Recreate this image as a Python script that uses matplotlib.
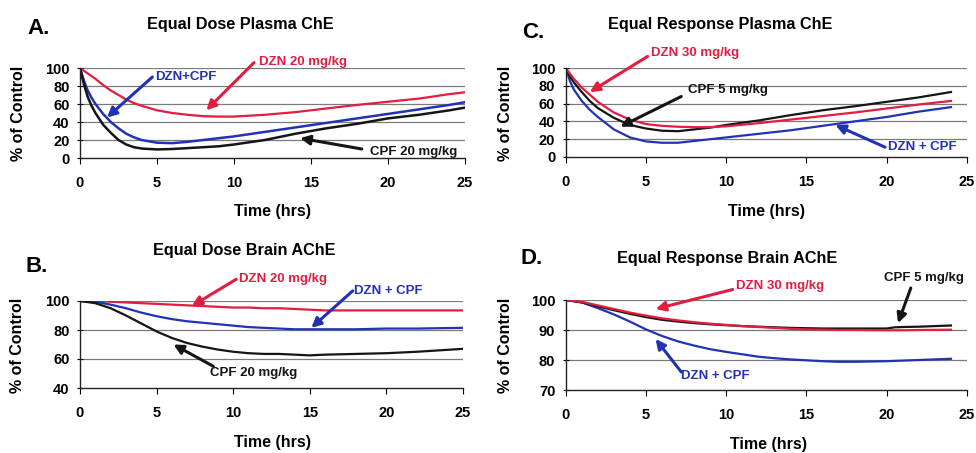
import matplotlib.pyplot as plt

plt.rcParams['font.family'] = ['Liberation Sans', 'DejaVu Sans']
plt.rcParams['font.weight'] = 'bold'

RED = '#e21d3f'
BLUE = '#2232b4'
BLACK = '#151515'

# Panel A - Equal Dose Plasma ChE
t_a = [0, 0.25, 0.5, 0.75, 1, 1.5, 2, 2.5, 3, 3.5, 4, 5, 6, 7, 8, 9, 10, 12, 14, 16, 18, 20, 22, 24, 25]
dzn_a = [100, 97, 94, 91, 88, 81, 75, 70, 65, 61, 58, 53, 50, 48, 46.5, 46, 46, 48, 51, 55, 59, 62.5, 66, 71, 73]
mix_a = [100, 86, 75, 67, 60, 49, 40, 33, 27, 23, 20, 17, 16.5, 18, 20, 22, 24, 29, 34, 39, 44, 49, 54, 59, 62]
cpf_a = [100, 82, 68, 58, 50, 37, 28, 20, 15, 12, 10.5, 9.5, 10, 11, 12, 13, 15, 20, 27, 33, 38, 44, 48, 53, 56]

# Panel C - Equal Response Plasma ChE
t_c = [0, 0.25, 0.5, 1, 1.5, 2, 3, 4, 5, 6, 7, 8, 9, 10, 12, 14, 16, 18, 20, 22, 24]
dzn_c = [100, 94, 88, 78, 70, 62, 50, 42, 37, 35, 34, 33.5, 33.5, 34.5, 38, 42, 46, 50, 54.5, 59, 63]
cpf_c = [100, 91, 84, 73, 63, 55, 44, 36, 32, 29.5, 29, 31, 33, 36, 41, 47, 52.5, 57, 62, 67, 73]
mix_c = [100, 86, 76, 63, 53, 45, 31, 22, 17.5, 16, 16, 18, 20, 22, 26, 30, 35, 40, 45, 51, 56]

# Panel B - Equal Dose Brain AChE
t_b = [0, 1, 2, 3, 4, 5, 6, 7, 8, 9, 10, 11, 12, 13, 14, 15, 16, 18, 20, 22, 25]
dzn_b = [100, 100, 99.5, 99, 98.5, 98, 97.5, 97, 96.5, 96, 95.5, 95.5, 95, 95, 94.5, 94, 93.5, 93.5, 93.5, 93.5, 93.5]
mix_b = [100, 99.5, 97.5, 95, 92, 89.5, 87.5, 86, 85, 84, 83, 82, 81.5, 81, 80.5, 80.5, 80.5, 80.5, 81, 81, 81.5]
cpf_b = [100, 98.5, 95, 90, 84.5, 79, 74.5, 71, 68.5, 66.5, 65, 64, 63.5, 63.5, 63, 62.5, 63, 63.5, 64, 65, 67]

# Panel D - Equal Response Brain AChE
t_d = [0, 1, 2, 3, 4, 5, 6, 7, 8, 9, 10, 11, 12, 13, 14, 15, 16, 17, 18, 20, 20.5, 21, 22, 24]
dzn_d = [100, 99.4, 98.2, 97, 95.8, 94.8, 93.9, 93.2, 92.6, 92.1, 91.7, 91.3, 91, 90.7, 90.4, 90.2, 90.1, 90, 90, 89.9, 89.9, 89.9, 90, 90.1]
cpf_d = [100, 99.2, 97.9, 96.6, 95.4, 94.3, 93.4, 92.8, 92.3, 91.9, 91.6, 91.3, 91.1, 90.9, 90.7, 90.6, 90.5, 90.5, 90.5, 90.5, 90.9, 91, 91.1, 91.5]
mix_d = [100, 99.2, 97.3, 95.2, 92.8, 90.2, 88, 86.2, 84.8, 83.6, 82.7, 81.9, 81.1, 80.6, 80.2, 79.9, 79.6, 79.4, 79.4, 79.6, 79.7, 79.8, 80, 80.4]

W, H = 976, 453
fig = plt.figure(figsize=(W / 100, H / 100), dpi=100)


def px_axes(left, top, right, bottom):
    # axes box from pixel edges
    return fig.add_axes([left / W, 1 - bottom / H, (right - left) / W, (bottom - top) / H])


def setup(ax, ylim, yticks):
    ax.set_xlim(0, 25)
    ax.set_ylim(*ylim)
    ax.set_xticks([0, 5, 10, 15, 20, 25])
    ax.set_yticks(yticks)
    for y in yticks[1:]:
        ax.axhline(y, color='#7a7a7a', lw=0.9, zorder=0)
    for s in ['top', 'right']:
        ax.spines[s].set_visible(False)
    for s in ['left', 'bottom']:
        ax.spines[s].set_color('#222222')
        ax.spines[s].set_linewidth(1.0)
    ax.tick_params(axis='x', direction='out', length=4, pad=9, labelsize=10.5)
    ax.tick_params(axis='y', direction='inout', length=5, pad=5, labelsize=10.5)
    for lab in ax.get_xticklabels() + ax.get_yticklabels():
        lab.set_fontweight('bold')


def arrow(ax, text, color, txt, tail, head):
    ax.text(txt[0], txt[1], text, color=color, fontsize=9.5, fontweight='bold',
            ha='left', va='center', clip_on=False)
    ax.annotate('', xy=head, xytext=tail, annotation_clip=False,
                arrowprops=dict(arrowstyle='-|>', color=color, lw=2.2,
                                mutation_scale=14, shrinkA=0, shrinkB=0))


def labels(letter, lx, ly, title, tx, ty, xlx, xly, ylx, yly):
    fig.text(lx / W, 1 - ly / H, letter, fontsize=16, fontweight='bold', ha='center', va='center')
    fig.text(tx / W, 1 - ty / H, title, fontsize=11.7, fontweight='bold', ha='center', va='center')
    fig.text(xlx / W, 1 - xly / H, 'Time (hrs)', fontsize=11.5, fontweight='bold', ha='center', va='center')
    fig.text(ylx / W, 1 - yly / H, '% of Control', fontsize=11.5, fontweight='bold',
             ha='center', va='center', rotation=90)


# A
ax = px_axes(80, 68, 465, 158)
setup(ax, (0, 100), [0, 20, 40, 60, 80, 100])
ax.plot(t_a, dzn_a, color=RED, lw=1.6)
ax.plot(t_a, mix_a, color=BLUE, lw=1.8)
ax.plot(t_a, cpf_a, color=BLACK, lw=1.8)
arrow(ax, 'DZN+CPF', BLUE, (4.9, 90), (4.7, 90), (1.75, 45))
arrow(ax, 'DZN 20 mg/kg', RED, (11.6, 106.7), (11.3, 106), (8.2, 53))
arrow(ax, 'CPF 20 mg/kg', BLACK, (18.8, 6.7), (18.3, 10), (14.3, 22))
labels('A.', 39, 29, 'Equal Dose Plasma ChE', 240, 25, 272, 212, 19, 113)

# C
ax = px_axes(565.7, 68, 967, 157)
setup(ax, (0, 100), [0, 20, 40, 60, 80, 100])
ax.plot(t_c, mix_c, color=BLUE, lw=1.6)
ax.plot(t_c, cpf_c, color=BLACK, lw=1.6)
ax.plot(t_c, dzn_c, color=RED, lw=1.6)
arrow(ax, 'DZN 30 mg/kg', RED, (5.3, 117), (5.1, 113), (1.5, 73))
arrow(ax, 'CPF 5 mg/kg', BLACK, (7.6, 75.3), (7.2, 68), (3.4, 34))
arrow(ax, 'DZN + CPF', BLUE, (20.1, 11.2), (19.9, 11), (16.8, 36))
labels('C.', 533, 33, 'Equal Response Plasma ChE', 720, 25, 766, 212, 505, 113)

# B
ax = px_axes(80, 301, 463, 388)
setup(ax, (40, 100), [40, 60, 80, 100])
ax.plot(t_b, dzn_b, color=RED, lw=1.6)
ax.plot(t_b, mix_b, color=BLUE, lw=1.6)
ax.plot(t_b, cpf_b, color=BLACK, lw=1.6)
arrow(ax, 'DZN 20 mg/kg', RED, (10.4, 115.2), (10.2, 115), (7.3, 96.5))
arrow(ax, 'DZN + CPF', BLUE, (17.9, 106.9), (17.8, 107), (15.1, 81.5))
arrow(ax, 'CPF 20 mg/kg', BLACK, (8.5, 50.3), (8.7, 55), (6.1, 70))
labels('B.', 37, 266, 'Equal Dose Brain AChE', 244, 251, 272, 443, 18, 345)

# D
ax = px_axes(565.7, 300, 967, 390)
setup(ax, (70, 100), [70, 80, 90, 100])
ax.plot(t_d, mix_d, color=BLUE, lw=1.6)
ax.plot(t_d, cpf_d, color=BLACK, lw=1.6)
ax.plot(t_d, dzn_d, color=RED, lw=1.6)
arrow(ax, 'DZN 30 mg/kg', RED, (10.6, 104.7), (10.4, 103.5), (5.6, 97))
arrow(ax, 'CPF 5 mg/kg', BLACK, (19.8, 107.3), (21.5, 104), (20.7, 92.3))
arrow(ax, 'DZN + CPF', BLUE, (7.2, 74.7), (7.2, 76), (5.6, 87))
labels('D.', 532, 259, 'Equal Response Brain AChE', 727, 259, 768, 444, 505, 345)

fig.savefig('out.png', dpi=100, facecolor='white')
